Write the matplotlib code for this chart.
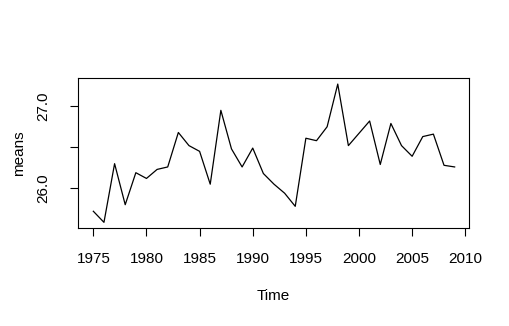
import numpy as np
import matplotlib.pyplot as plt

plt.rcParams['font.family'] = ['Liberation Sans', 'DejaVu Sans']

years = np.arange(1975, 2010)
means = [
25.72, 25.585, 26.30, 25.80, 26.19, 26.12, 26.23, 26.26, 26.68, 26.52,
26.45, 26.05, 26.95, 26.48, 26.26, 26.49, 26.18, 26.05, 25.94, 25.78,
26.61, 26.58, 26.75, 27.27, 26.52, 26.67, 26.82, 26.29, 26.79, 26.52,
26.39, 26.63, 26.66, 26.28, 26.26
]

fig = plt.figure(figsize=(5.1, 3.26), dpi=100)
ax = fig.add_axes([0.153, 0.3006, 0.7666, 0.4604])
ax.plot(years, means, color='black', linewidth=0.9)

ax.set_xlim(1973.56, 2010.35)
ax.set_ylim(25.516, 27.345)
ax.set_xticks([1975, 1980, 1985, 1990, 1995, 2000, 2005, 2010])
ax.set_yticks([26.0, 26.5, 27.0])
ax.set_yticklabels(['26.0', '', '27.0'])
ax.tick_params(direction='out', length=6, width=0.8, labelsize=11)
ax.tick_params(axis='x', pad=11)
ax.tick_params(axis='y', pad=14)
for lab in ax.get_yticklabels():
    lab.set_rotation(90)
    lab.set_va('center')
for s in ax.spines.values():
    s.set_linewidth(0.8)

ax.set_xlabel('Time', fontsize=11, labelpad=17)
ax.set_ylabel('means', fontsize=11, labelpad=7)

fig.savefig('out.png', dpi=100)
